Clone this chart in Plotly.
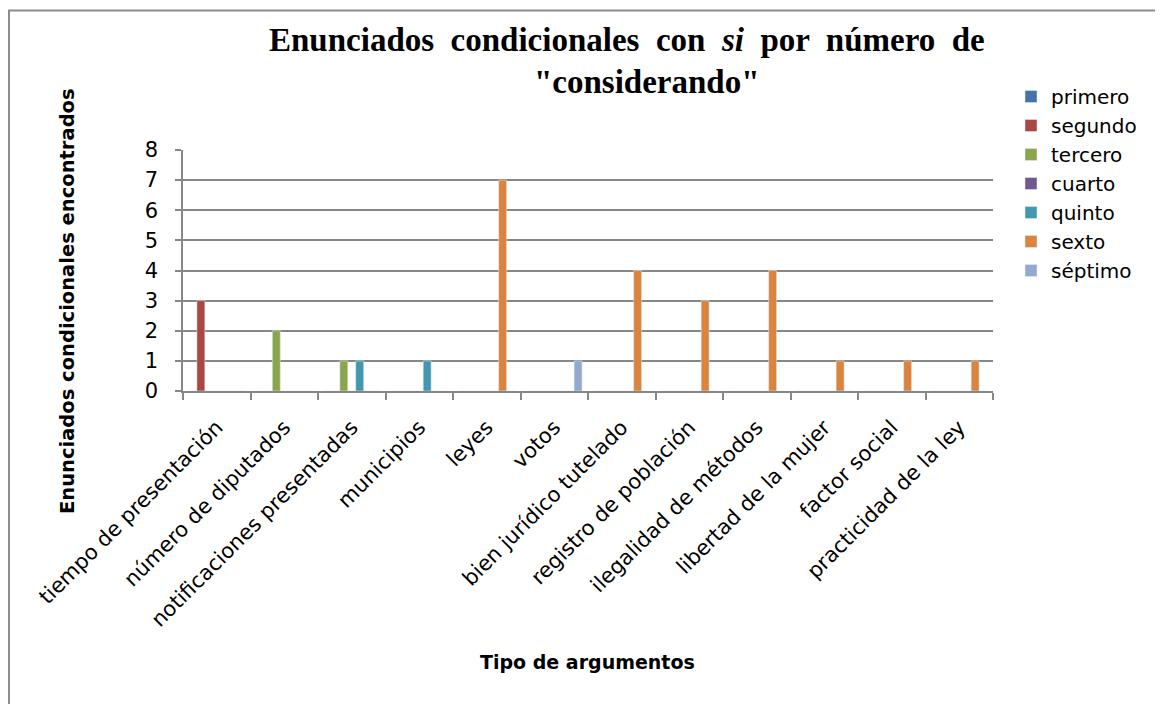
import plotly.graph_objects as go

categories = [
    "tiempo de presentación", "número de diputados", "notificaciones presentadas",
    "municipios", "leyes", "votos", "bien jurídico tutelado", "registro de población",
    "ilegalidad de métodos", "libertad de la mujer", "factor social", "practicidad de la ley",
]

primero = [0, 0, 0, 0, 0, 0, 0, 0, 0, 0, 0, 0]
segundo = [3, 0, 0, 0, 0, 0, 0, 0, 0, 0, 0, 0]
tercero = [0, 2, 1, 0, 0, 0, 0, 0, 0, 0, 0, 0]
cuarto = [0, 0, 0, 0, 0, 0, 0, 0, 0, 0, 0, 0]
quinto = [0, 0, 1, 1, 0, 0, 0, 0, 0, 0, 0, 0]
sexto = [0, 0, 0, 0, 7, 0, 4, 3, 4, 1, 1, 1]
septimo = [0, 0, 0, 0, 0, 1, 0, 0, 0, 0, 0, 0]

series = [
    ("primero", primero, "#4572A7"),
    ("segundo", segundo, "#AA4643"),
    ("tercero", tercero, "#89A54E"),
    ("cuarto", cuarto, "#71588F"),
    ("quinto", quinto, "#4198AF"),
    ("sexto", sexto, "#DB843D"),
    ("séptimo", septimo, "#93A9CF"),
]

# the page body adds an 8px margin, so the figure is drawn 8px in
OFF = 8
W, H = 1163 - OFF, 704 - OFF
# plot area in page pixels
L, R, T, B = 183, 993, 150, 391


def px_x(x):
    return (x - L) / (R - L)


def px_y(y):
    return (B - y) / (B - T)


fig = go.Figure()
for name, vals, color in series:
    fig.add_trace(go.Bar(x=categories, y=vals, name=name, marker_color=color))

sans = "'DejaVu Sans', sans-serif"
serif = "'Liberation Serif', 'Times New Roman', serif"
grid = "#878787"

fig.update_layout(
    width=W,
    height=H,
    margin=dict(l=L - OFF, r=W - (R - OFF), t=T - OFF, b=H - (B - OFF), autoexpand=False),
    paper_bgcolor="white",
    plot_bgcolor="white",
    barmode="group",
    bargap=1.5 / 8.5,
    bargroupgap=0,
    font=dict(family=sans, color="black"),
    legend=dict(
        x=px_x(1011), xanchor="left",
        y=px_y(77), yanchor="top",
        font=dict(size=20),
        bgcolor="rgba(0,0,0,0)",
    ),
    showlegend=True,
)

fig.update_xaxes(
    type="category",
    tickangle=-45,
    tickfont=dict(size=21),
    ticklabelstandoff=14,
    showline=True, linecolor=grid, linewidth=1.5,
    ticks="outside", tickson="boundaries", ticklen=7, tickcolor=grid, tickwidth=1.5,
    showgrid=False,
)
fig.update_yaxes(
    range=[0, 8], dtick=1,
    tickfont=dict(size=21),
    ticklabelstandoff=13,
    showline=True, linecolor=grid, linewidth=1.5,
    ticks="outside", ticklen=6, tickcolor=grid, tickwidth=1.5,
    showgrid=True, gridcolor=grid, gridwidth=1.5,
    zeroline=False,
)


def note(text, x, y, size, family=sans, angle=0):
    fig.add_annotation(
        text=text, textangle=angle,
        xref="paper", yref="paper", x=px_x(x), y=px_y(y),
        xanchor="center", yanchor="middle",
        showarrow=False, font=dict(family=family, size=size),
    )


# title, two lines as in the original
note("<b>Enunciados  condicionales  con  <i>si</i>  por  número  de</b>", 627, 40, 33, serif)
note('<b>"considerando"</b>', 647, 82, 33, serif)

# axis titles placed like the original chart
note("<b>Enunciados condicionales encontrados</b>", 67, 301, 19.5, angle=-90)
note("<b>Tipo de argumentos</b>", 587, 662, 19)

# chart outer border
fig.add_shape(
    type="rect", xref="paper", yref="paper",
    x0=px_x(9), x1=px_x(1200),
    y0=px_y(740), y1=px_y(10.5),
    line=dict(color="#8c8c8c", width=2),
)

fig.write_html("out.html")
